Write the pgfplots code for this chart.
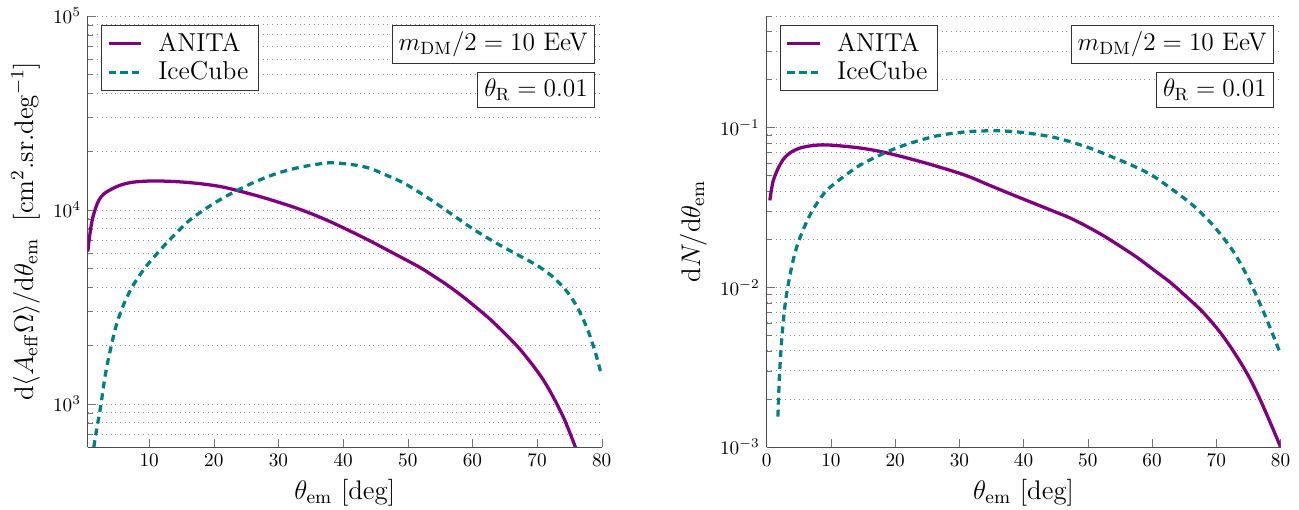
\RequirePackage{fix-cm}
\documentclass[border=0pt]{standalone}
\usepackage{pgfplots}
\pgfplotsset{compat=1.18}
\definecolor{anita}{rgb}{0.5,0,0.5}
\definecolor{ice}{rgb}{0,0.5,0.5}
\pgfplotstableread{
x y
0.5 6100
1.0 8200
1.5 9700
2.2 11200
3.0 12100
4.0 12700
5.5 13400
7.5 13900
10.5 14100
14 14000
17.5 13700
21 13200
24 12500
27 11750
29.7 11040
33 10160
35.8 9350
38.5 8550
41.9 7550
44.1 6940
48 5930
51.9 5050
54 4560
56.1 4100
58.4 3600
60.65 3130
62.8 2720
65 2310
67.2 1940
69.4 1574
71 1324
72.5 1086
74.2 836
75.8 615
76.5 532
}\anitaL
\pgfplotstableread{
x y
1.3 520
1.45 600
2.0 780
2.5 970
3.2 1400
4.0 1900
5.0 2600
6.3 3400
7.7 4180
9.5 5100
11.3 6000
13.5 7200
16.3 8870
20 10800
23.6 12600
26.5 14000
29.7 15400
33 16500
36 17200
38.2 17500
41.5 17100
44.1 16400
46.7 15100
49.3 13800
51.9 12250
54.4 10800
57 9400
59.6 8180
62.1 7250
64.7 6460
67.3 5800
69.9 5200
71.2 4860
72.5 4500
73.8 4080
75 3660
76.1 3200
77 2800
78 2330
79 1850
80 1400
}\iceL
\pgfplotstableread{
x y
0.5 0.035
1.0 0.046
1.87 0.0564
2.7 0.064
3.7 0.0697
5 0.074
6.8 0.0768
9.3 0.0779
14.2 0.0748
18.5 0.0697
24.6 0.0602
30.8 0.0505
35 0.0430
39.4 0.0364
44.6 0.0300
47.2 0.0272
49.8 0.0241
52.5 0.02096
55 0.0181
57.6 0.01545
60.2 0.0129
62.8 0.01076
65.4 0.00869
67.8 0.00706
70.2 0.00547
72 0.00436
73.9 0.00332
75.4 0.0026
76.9 0.00195
78.5 0.00139
80 0.0010
}\anitaR
\pgfplotstableread{
x y
1.76 0.00155
2.0 0.0028
2.4 0.0050
3.0 0.0085
4.0 0.0140
5.0 0.0195
6.8 0.0286
9 0.039
11.1 0.0463
14.5 0.058
18.5 0.0697
22 0.079
26.5 0.0887
31 0.094
35.7 0.0955
40 0.093
44.9 0.0865
50 0.0752
54.2 0.0644
57 0.0577
60 0.0502
63 0.0414
66.4 0.0325
69.5 0.0244
72.6 0.01686
75.1 0.01114
77.6 0.00664
80 0.00382
}\iceR
\newcommand{\lf}{\fontsize{13.5}{16}\selectfont}
\newcommand{\af}{\fontsize{14}{17}\selectfont}
\tikzset{
  anitastyle/.style={draw=anita, line width=1.7pt},
  icestyle/.style={draw=ice, line width=1.7pt, dash pattern=on 3.6pt off 2.6pt},
  boxstyle/.style={draw=black!80, fill=white, anchor=north east, font=\fontsize{13.2}{16}\selectfont},
}
\begin{document}
\begin{tikzpicture}
\path[use as bounding box] (-45.7pt,-32.8pt) rectangle (630.9pt,232.8pt);
\begin{axis}[at={(0pt,0pt)}, anchor=south west,
    scale only axis, width=267.7pt, height=224.5pt,
    ymode=log,
    axis x line=bottom, axis y line=left,
    axis line style={-, black!70},
    tick style={black!55},
    tick align=inside,
    ymajorgrids, yminorgrids,
    major grid style={dotted, black!45},
    minor grid style={dotted, black!45},
    xmax=80,
    xtick={0,10,...,80},
    tick label style={font=\fontsize{10}{12}\selectfont},
    xlabel={\af $\theta_{\rm em}$ [deg]},
    legend style={at={(0.0253,0.98)}, anchor=north west,
      font=\lf, draw=black!80},
    legend cell align=left,
  xmin=0.5, ymin=600, ymax=1e5,
  ylabel={\af $\mathrm{d}\langle A_{\rm eff}\Omega\rangle/\mathrm{d}\theta_{\rm em}$\ \ [cm$^2$.sr.deg$^{-1}$]}]
\addplot[anitastyle, smooth] table {\anitaL};
\addlegendentry{\lf\hspace*{6pt}ANITA}
\addplot[icestyle, smooth] table {\iceL};
\addlegendentry{\lf\hspace*{6pt}IceCube}
\node[boxstyle] at (rel axis cs:0.986,0.98) {$m_{\rm DM}/2 = 10$ EeV};
\node[boxstyle] at (rel axis cs:0.986,0.869) {$\theta_{\rm R} = 0.01$};
\end{axis}
\begin{axis}[at={(353.6pt,0pt)}, anchor=south west,
    scale only axis, width=267.7pt, height=224.5pt,
    ymode=log,
    axis x line=bottom, axis y line=left,
    axis line style={-, black!70},
    tick style={black!55},
    tick align=inside,
    ymajorgrids, yminorgrids,
    major grid style={dotted, black!45},
    minor grid style={dotted, black!45},
    xmax=80,
    xtick={0,10,...,80},
    tick label style={font=\fontsize{10}{12}\selectfont},
    xlabel={\af $\theta_{\rm em}$ [deg]},
    legend style={at={(0.0253,0.98)}, anchor=north west,
      font=\lf, draw=black!80},
    legend cell align=left,
  xmin=0, ymin=1e-3, ymax=0.5,
  ylabel={\af $\mathrm{d}N/\mathrm{d}\theta_{\rm em}$}]
\addplot[anitastyle, smooth] table {\anitaR};
\addlegendentry{\lf\hspace*{6pt}ANITA}
\addplot[icestyle, smooth] table {\iceR};
\addlegendentry{\lf\hspace*{6pt}IceCube}
\node[boxstyle] at (rel axis cs:0.986,0.98) {$m_{\rm DM}/2 = 10$ EeV};
\node[boxstyle] at (rel axis cs:0.986,0.869) {$\theta_{\rm R} = 0.01$};
\end{axis}
\end{tikzpicture}
\end{document}
